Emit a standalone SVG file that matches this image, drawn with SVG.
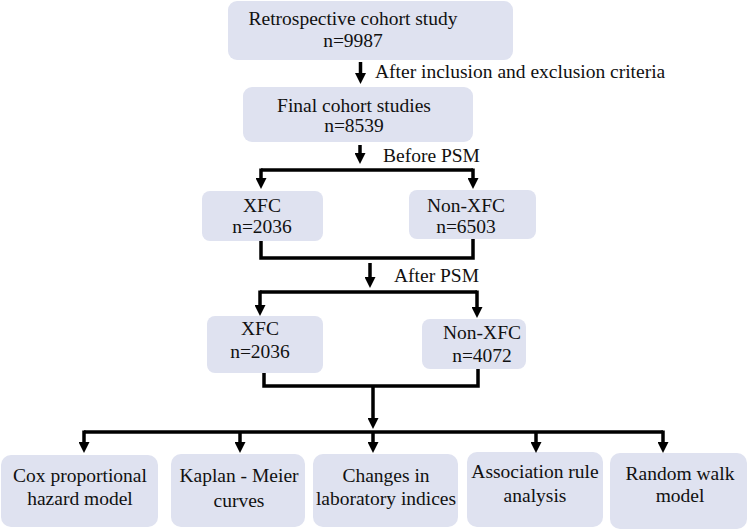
<svg xmlns="http://www.w3.org/2000/svg" width="750" height="532" viewBox="0 0 750 532">
<style>
.box{fill:#dfe2f0;stroke:none}
text{font-family:"Liberation Serif","Times New Roman",serif;font-size:19.5px;fill:#111;text-anchor:middle}
.lbl{text-anchor:start}
.ln{fill:none;stroke:#000;stroke-width:3.5;stroke-linejoin:miter}
.ar{fill:none;stroke:#000;stroke-width:3.5;marker-end:url(#ah)}
</style>
<defs>
<marker id="ah" viewBox="0 0 11 11" refX="4" refY="5.5" markerWidth="11" markerHeight="11" markerUnits="userSpaceOnUse" orient="auto">
<path d="M0,0 L11,5.5 L0,11 z" fill="#000"/>
</marker>
</defs>
<rect width="750" height="532" fill="#fff"/>
<g id="n_retro"><rect class="box" x="228" y="1" width="285" height="59" rx="9"/><text x="353" y="25">Retrospective cohort study</text><text x="353" y="47">n=9987</text></g>
<g id="n_final"><rect class="box" x="243" y="87" width="230" height="55" rx="9"/><text x="354" y="112">Final cohort studies</text><text x="354" y="132">n=8539</text></g>
<g id="n_xfc1"><rect class="box" x="202" y="191" width="121" height="50" rx="8"/><text x="262" y="212">XFC</text><text x="262" y="233">n=2036</text></g>
<g id="n_nonxfc1"><rect class="box" x="409" y="190" width="127" height="49" rx="8"/><text x="466" y="212">Non-XFC</text><text x="466" y="233">n=6503</text></g>
<g id="n_xfc2"><rect class="box" x="207" y="316" width="116" height="57" rx="8"/><text x="260" y="335">XFC</text><text x="260" y="358">n=2036</text></g>
<g id="n_nonxfc2"><rect class="box" x="422" y="319" width="104" height="50" rx="8"/><text x="482" y="339">Non-XFC</text><text x="482" y="362">n=4072</text></g>
<g id="n_cox"><rect class="box" x="1" y="455" width="157" height="72" rx="10"/><text x="80" y="482">Cox proportional</text><text x="80" y="505">hazard model</text></g>
<g id="n_km"><rect class="box" x="171" y="454" width="134" height="73" rx="10"/><text x="239" y="482">Kaplan - Meier</text><text x="239" y="507">curves</text></g>
<g id="n_lab"><rect class="box" x="313" y="454" width="145" height="73" rx="10"/><text x="386" y="482">Changes in</text><text x="386" y="505">laboratory indices</text></g>
<g id="n_assoc"><rect class="box" x="467" y="452" width="136" height="75" rx="10"/><text x="535" y="478">Association rule</text><text x="535" y="502">analysis</text></g>
<g id="n_rw"><rect class="box" x="610" y="453" width="137" height="76" rx="10"/><text x="680" y="480">Random walk</text><text x="680" y="502">model</text></g>
<g id="labels">
<text class="lbl" x="375" y="78">After inclusion and exclusion criteria</text>
<text class="lbl" x="383" y="162">Before PSM</text>
<text class="lbl" x="394" y="282">After PSM</text>
</g>
<g id="connectors">
<path class="ar" d="M360.5,62 V77"/>
<path class="ar" d="M360,145 V157"/>
<path class="ln" d="M261,170 H473"/>
<path class="ar" d="M261,168.5 V182"/>
<path class="ar" d="M473,168.5 V182"/>
<path class="ln" d="M261,241 V258 H473 V239"/>
<path class="ar" d="M370,263 V281"/>
<path class="ln" d="M260,292 H477"/>
<path class="ar" d="M260,290.5 V309"/>
<path class="ar" d="M477,290.5 V311"/>
<path class="ln" d="M264,373 V386 H478 V369"/>
<path class="ar" d="M373,386 V422"/>
<path class="ln" d="M84,432 H663"/>
<path class="ar" d="M84,430.5 V446"/>
<path class="ar" d="M240,432 V446"/>
<path class="ar" d="M373,432 V446"/>
<path class="ar" d="M536,432 V446"/>
<path class="ar" d="M663,430.5 V446"/>
</g>
</svg>
